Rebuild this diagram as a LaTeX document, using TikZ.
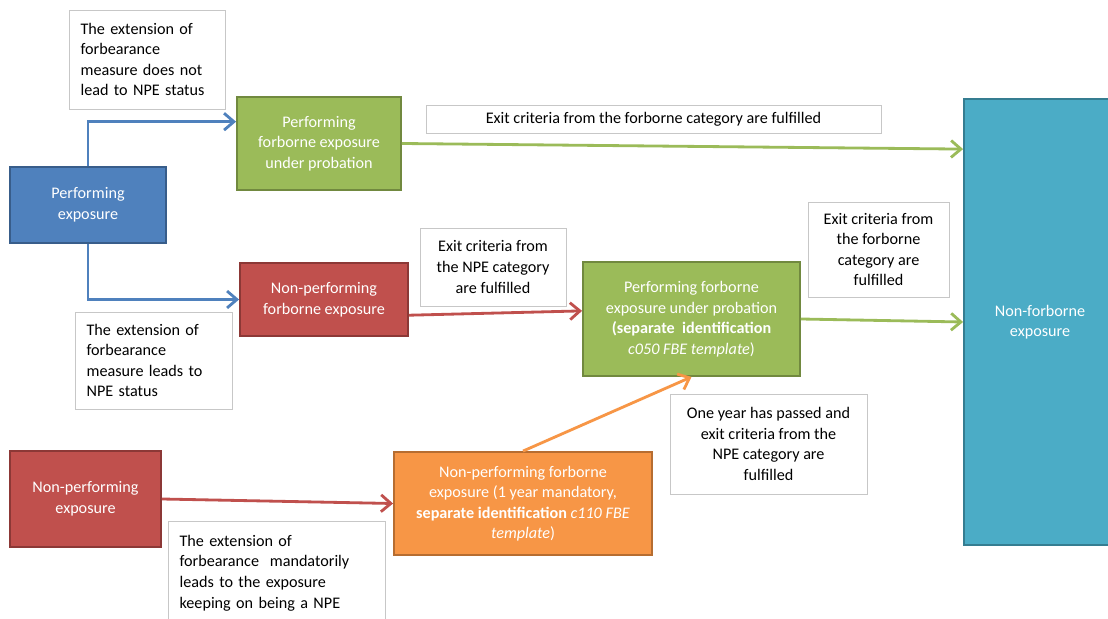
\documentclass[tikz,border=0pt]{standalone}
\usepackage{fontspec}
\setmainfont{Carlito}
\usetikzlibrary{arrows.meta,calc}

\definecolor{blueFill}{HTML}{4F81BD}
\definecolor{blueLine}{HTML}{385D8A}
\definecolor{greenFill}{HTML}{9BBB59}
\definecolor{greenLine}{HTML}{71893F}
\definecolor{redFill}{HTML}{C0504D}
\definecolor{redLine}{HTML}{8C3836}
\definecolor{orangeFill}{HTML}{F79646}
\definecolor{orangeLine}{HTML}{B66D31}
\definecolor{tealFill}{HTML}{4BACC6}
\definecolor{tealLine}{HTML}{357D91}

\newcommand{\boxfont}{\fontsize{11.5}{14.6}\selectfont}

\begin{document}
\begin{tikzpicture}[x=0.025cm,y=0.025cm,
      Note/.style={draw=black!22, fill=white, inner sep=0pt, font=\boxfont, text=black},
      LeftNote/.style={Note, align=left, inner xsep=0.29cm, text width=#1},
      Block/.style={draw=#1Line, fill=#1Fill, line width=1.3pt, inner sep=0pt,
        align=center, font=\boxfont, text=white},
      Flow/.style={draw=#1Fill, line width=2pt, -{Straight Barb[length=7pt,width=12pt]}},
      ]
      \fill[white] (0,0) rectangle (1108,618);
      \useasboundingbox (0,0) rectangle (1108,618);

      % states
      \node[Block=blue, minimum width=3.9cm, minimum height=1.9cm] (perf) at (88,413)
        {Performing\\exposure};
      \node[Block=green, minimum width=4.1cm, minimum height=2.325cm] (pfeprob) at (319,474.5)
        {Performing\\forborne exposure\\under probation};
      \node[Block=red, minimum width=4.2cm, minimum height=1.825cm] (npfe) at (324,318.5)
        {Non-performing\\forborne exposure};
      \node[Block=green, minimum width=5.425cm, minimum height=2.85cm] (pfesep) at (691.5,299)
        {Performing forborne\\exposure under probation\\\textbf{(separate\ \ identification}\\\textit{c050 FBE template})};
      \node[Block=red, minimum width=3.775cm, minimum height=2.4cm] (npe) at (85.5,119)
        {Non-performing\\exposure};
      \node[Block=orange, minimum width=6.45cm, minimum height=2.575cm] (npfeyear) at (523,114.5)
        {Non-performing forborne\\exposure (1 year mandatory,\\\textbf{separate identification} \textit{c110 FBE}\\\textit{template})};
      \node[Block=teal, minimum width=3.8cm, minimum height=11.15cm] (nonfbe) at (1040,296)
        {Non-forborne\\exposure};

      % conditions
      \node[LeftNote=3.32cm, minimum height=2.475cm] (noNPE) at (147,558.5)
        {The extension of\\forbearance\\measure does not\\lead to NPE status};
      \node[LeftNote=3.345cm, minimum height=2.425cm] (toNPE) at (153.5,257.5)
        {The extension of\\forbearance\\measure leads to\\NPE status};
      \node[Note, align=center, minimum width=11.375cm, minimum height=0.7cm] (exitTop) at (653.5,499)
        {Exit criteria\ from the forborne category are fulfilled};
      \node[Note, align=center, minimum width=3.65cm, minimum height=1.95cm] (exitNPE) at (493,351)
        {Exit criteria\ from\\the NPE category\\are fulfilled};
      \node[Note, align=center, minimum width=3.525cm, minimum height=2.375cm] (exitFbe) at (878.5,368.5)
        {Exit criteria from\\the forborne\\category are\\fulfilled};
      \node[Note, align=center, minimum width=4.925cm, minimum height=2.5cm] (oneYear) at (768.5,174)
        {One year has passed and\\exit criteria from the\\NPE category are\\fulfilled};
      \node[LeftNote=4.845cm, minimum height=2.6cm] (keepNPE) at (276.5,45)
        {The extension of\\forbearance\ \ mandatorily\\leads to the exposure\\keeping on being a NPE};

      % transitions
      \draw[Flow=blue] (perf.north) |- ($(pfeprob.north west)!0.27!(pfeprob.south west)$);
      \draw[Flow=blue] (perf.south) |- (npfe.west);
      \draw[Flow=green] (pfeprob.east) -- ($(nonfbe.north west)!0.114!(nonfbe.south west)$);
      \draw[Flow=red] ($(npfe.north east)!0.71!(npfe.south east)$) -- ($(pfesep.north west)!0.43!(pfesep.south west)$);
      \draw[Flow=green] (pfesep.east) -- (nonfbe.west);
      \draw[Flow=red] (npe.east) -- (npfeyear.west);
      \draw[Flow=orange] (npfeyear.north) -- (pfesep.south);
    \end{tikzpicture}
\end{document}
